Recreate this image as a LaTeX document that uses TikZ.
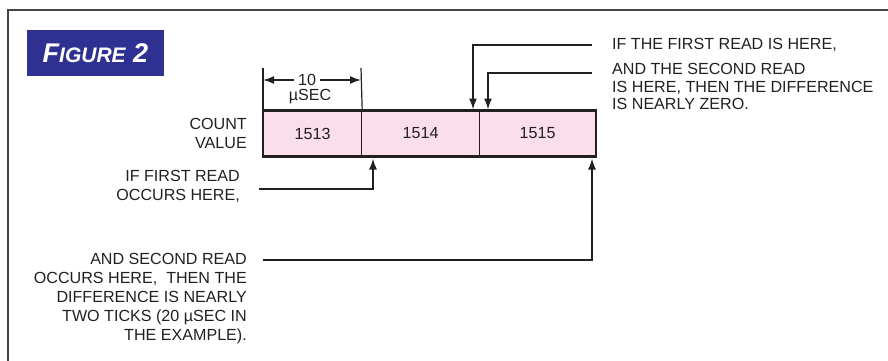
\documentclass[tikz,border=0pt]{standalone}
\usepackage{fontspec}
\setmainfont{Liberation Sans}
\usetikzlibrary{arrows.meta}
\definecolor{figblue}{RGB}{46,49,146}
\definecolor{cellpink}{RGB}{250,222,235}
\definecolor{ink}{RGB}{35,31,32}
\definecolor{framegray}{RGB}{70,70,70}
\begin{document}
\begin{tikzpicture}[x=1pt,y=-1pt,
  lbl/.style={inner sep=0pt, font=\fontsize{16.1}{19}\selectfont, text=ink, align=right},
  cell/.style={draw=ink, line width=1.2pt, fill=cellpink, minimum height=45pt, inner sep=0pt,
    font=\fontsize{16.1}{19}\selectfont, text=ink, anchor=west},
  arr/.style={draw=ink, line width=1.7pt, -{Latex[length=11pt,width=8pt]}},
  tick/.style={draw=ink, line width=1.2pt}
  ]
\useasboundingbox (0,0) rectangle (888,361);
% frame
\draw[framegray, line width=1.5pt] (888,10) -- (8,10) -- (8,361);
% figure title
\node[fill=figblue, minimum width=137pt, minimum height=46pt, inner sep=0pt, text=white,
  font=\bfseries\itshape] (fig) at (95.5,53)
  {\fontsize{27}{27}\selectfont F{\fontsize{21}{21}\selectfont IGURE} 2};
% cells
\node[cell, minimum width=98pt] (c1) at (263,133.5) {1513};
\node[cell, minimum width=118pt] (c2) at (361,133.5) {1514};
\node[cell, minimum width=116pt] (c3) at (479,133.5) {1515};
\draw[ink, line width=2.5pt] (c1.north west) rectangle (c3.south east);
% dimension
\coordinate (t1) at (263,68);
\coordinate (t2) at (361,68);
\draw[tick] (t1) -- (c1.north west);
\draw[tick] (t2) -- (c1.north east);
\node[lbl, inner xsep=4pt] (ten) at (307,80) {10};
\node[lbl] (usec) at (310,97) {µSEC};
\draw[arr] (ten.west) -- (ten.west -| t1);
\draw[arr] (ten.east) -- (ten.east -| t2);
% left labels
\node[lbl, anchor=east] (cv) at (247,133.5) {COUNT\\VALUE};
\node[lbl, anchor=east] (fr) at (240,186.5) {IF FIRST READ\\OCCURS HERE,};
\node[lbl, anchor=east] (sr) at (247,298.5) {AND SECOND READ\\OCCURS HERE,\ \ THEN THE\\DIFFERENCE IS NEARLY\\TWO TICKS (20 µSEC IN\\THE EXAMPLE).};
% lower arrows
\coordinate (fr0) at (259,189);
\coordinate (fr1) at (373,158.5);
\draw[arr] (fr0) -| (fr1);
\coordinate (sr0) at (263,260);
\coordinate (sr1) at (592,158.5);
\draw[arr] (sr0) -| (sr1);
% upper arrows
\coordinate (qa0) at (592,45);
\coordinate (qa1) at (473,109.5);
\draw[arr] (qa0) -| (qa1);
\coordinate (qb0) at (592,73);
\coordinate (qb1) at (488,109.5);
\draw[arr] (qb0) -| (qb1);
% right labels
\node[lbl, anchor=west, align=left] (q1) at (612,45) {IF THE FIRST READ IS HERE,};
\node[lbl, anchor=west, align=left, font=\fontsize{16.1}{17.5}\selectfont] (q2) at (612,86.5)
  {AND THE SECOND READ\\IS HERE, THEN THE DIFFERENCE\\IS NEARLY ZERO.};
\end{tikzpicture}
\end{document}
